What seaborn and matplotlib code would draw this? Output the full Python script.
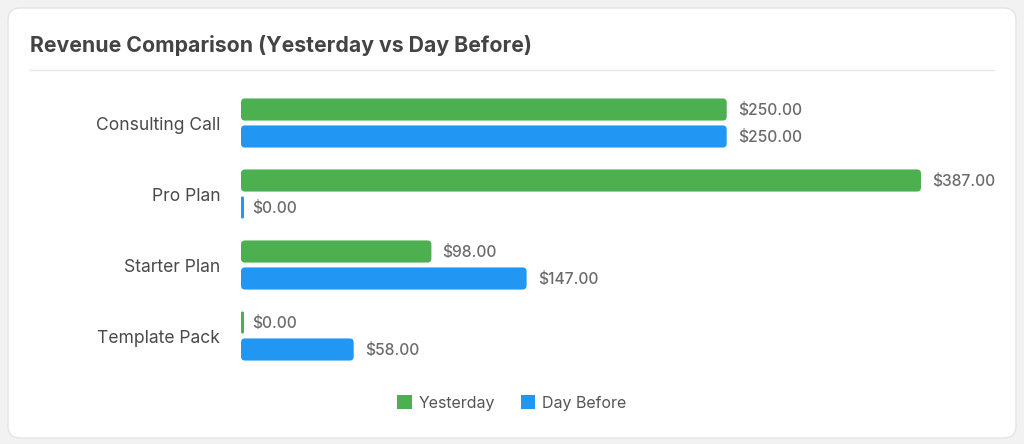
import matplotlib
matplotlib.use("Agg")
import matplotlib.pyplot as plt
from matplotlib.patches import FancyBboxPatch, Rectangle
import seaborn as sns
import pandas as pd

categories = ["Consulting Call", "Pro Plan", "Starter Plan", "Template Pack"]
yesterday = [250.00, 387.00, 98.00, 0.00]
day_before = [250.00, 0.00, 147.00, 58.00]
series_names = ["Yesterday", "Day Before"]
colors = ["#4CAF50", "#2196F3"]
title = "Revenue Comparison (Yesterday vs Day Before)"
x_max = 350

df = pd.DataFrame({
    "category": categories * 2,
    "value": yesterday + day_before,
    "series": [series_names[0]] * len(categories) + [series_names[1]] * len(categories),
})

sns.set_theme(style="white")
plt.rcParams["font.family"] = ["Inter", "DejaVu Sans"]

W, H = 1024, 444
fig = plt.figure(figsize=(W / 100, H / 100), dpi=100)
fig.patch.set_facecolor("#f2f2f3")

# card
card = FancyBboxPatch((8 / W, 6 / H), (1008) / W, (430) / H,
                      boxstyle="round,pad=0,rounding_size=0.012",
                      transform=fig.transFigure, facecolor="white",
                      edgecolor="#e4e4e6", linewidth=1.0, zorder=-10,
                      mutation_aspect=W / H)
fig.patches.append(card)

fig.text(30 / W, 1 - 45 / H, title, fontsize=15.3, fontweight="bold",
         color="#444444", va="center", ha="left")
fig.add_artist(plt.Line2D([30 / W, 994 / W], [1 - 70 / H, 1 - 70 / H],
                          transform=fig.transFigure, color="#e6e6e6", lw=1))

ax_left, ax_right = 241 / W, 921 / W
ax_top, ax_bottom = 1 - 87.5 / H, 1 - 371.5 / H
ax = fig.add_axes([ax_left, ax_bottom, ax_right - ax_left, ax_top - ax_bottom])
ax.set_facecolor("none")
ax.set_zorder(5)

sns.barplot(data=df, y="category", x="value", hue="series", orient="h",
            palette=colors, saturation=1, width=0.76, gap=0.18, ax=ax, legend=False,
            order=categories, hue_order=series_names)

ax.set_xlim(0, x_max)
ax.set_ylim(len(categories) - 0.5, -0.5)

px_per_x = (ax_right - ax_left) * W / x_max
px_per_y = (ax_top - ax_bottom) * H / len(categories)
r_px = 4.0
min_w = 3.0 / px_per_x

patches = list(ax.patches)
for p in patches:
    x0, y0 = p.get_x(), p.get_y()
    w, h = p.get_width(), p.get_height()
    fc = p.get_facecolor()
    p.remove()
    val = w
    w_draw = min(max(w, min_w), x_max)
    r = min(r_px / px_per_x, w_draw / 2)
    fb = FancyBboxPatch((x0, y0), w_draw, h,
                        boxstyle=f"round,pad=0,rounding_size={r}",
                        mutation_aspect=px_per_x / px_per_y,
                        facecolor=fc, edgecolor="none", zorder=2, clip_on=False)
    ax.add_patch(fb)
    end = min(val, x_max)
    ax.annotate(f"${val:,.2f}", xy=(end, y0 + h / 2), xytext=(8.0, -1.0),
                textcoords="offset points", va="center", ha="left",
                fontsize=11.2, color="#6a6a6a", fontweight="medium")

ax.set_xlabel("")
ax.set_ylabel("")
ax.set_xticks([])
ax.tick_params(axis="y", length=0, pad=15, labelsize=12.6, labelcolor="#4a4a4a")
for s in ax.spines.values():
    s.set_visible(False)

# legend
handles = [Rectangle((0, 0), 1, 1, facecolor=c, edgecolor="none") for c in colors]
leg = fig.legend(handles, series_names, loc="center", bbox_to_anchor=(0.5, 1 - 403 / H),
                 ncol=2, frameon=False, fontsize=11.5, handlelength=0.9, handleheight=0.9,
                 handletextpad=0.45, columnspacing=1.6, labelcolor="#555555")

fig.savefig("out.png", dpi=100, facecolor=fig.get_facecolor())
